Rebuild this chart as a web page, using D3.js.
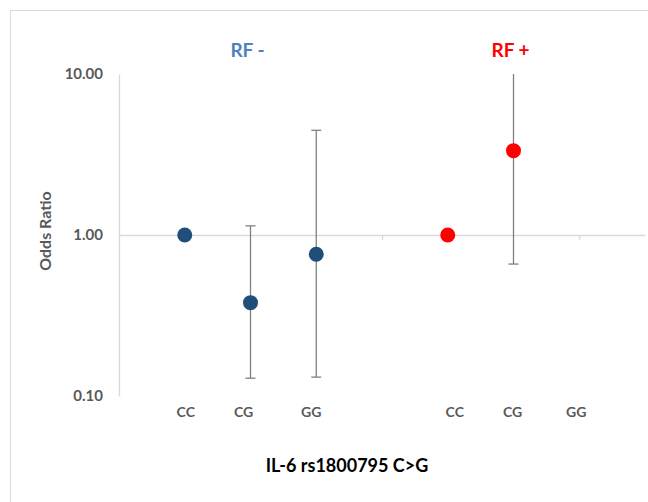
<!DOCTYPE html>
<html><head><meta charset="utf-8">
<script src="https://cdn.jsdelivr.net/npm/d3@7/dist/d3.min.js"></script>
<style>
html,body{margin:0;padding:0;background:#fff;}
svg{display:block;font-family:Lato,"Open Sans",sans-serif;}
</style></head>
<body><svg id="chart" width="648" height="502"></svg>
<script>
// ---- data ----
const groups = ["RF -", "RF +"];
const genotypes = ["CC", "CG", "GG", "CC", "CG", "GG"];
const xPositions = [1, 2, 3, 5, 6, 7];
const pointGroup = ["RF -", "RF -", "RF -", "RF +", "RF +", "RF +"];
const oddsRatio = [1.00, 0.38, 0.76, 1.00, 3.34, null];
const ciLower = [null, 0.129, 0.131, null, 0.66, null];
const ciUpper = [null, 1.14, 4.47, null, 17.0, null];
const yTicks = [0.1, 1, 10];
const xTicks = [1, 4, 7];
const groupCenters = [2, 6];

// ---- layout ----
const svg = d3.select("#chart");
const x = d3.scaleLinear().domain([0, 8]).range([119, 645]);
const y = d3.scaleLog().domain([0.1, 10]).range([396, 74]);
const labelShift = [1, -7, -5, 7, -1, -3];
const colors = {"RF -": "#1F4E79", "RF +": "#FF0000"};
const titleColors = {"RF -": "#4F81BD", "RF +": "#FF0000"};

// frame
svg.append("rect").attr("x", 10.5).attr("y", 10.5).attr("width", 700).attr("height", 600)
  .attr("fill", "none").attr("stroke", "#d9d9d9").attr("stroke-width", 1);

// y axis
const yAxis = svg.append("g").attr("transform", `translate(${x(0)},0)`)
  .call(d3.axisLeft(y).tickValues(yTicks).tickSize(0).tickPadding(16).tickFormat(d3.format(".2f")));
yAxis.select(".domain").attr("stroke", "#d9d9d9").attr("stroke-width", 1.3);
yAxis.selectAll("text").attr("fill", "#595959").attr("font-size", 15).attr("font-weight", 700)
  .attr("font-family", "Lato, sans-serif");

// horizontal axis crossing at 1
const xAxis = svg.append("g").attr("transform", `translate(0,${y(1)})`)
  .call(d3.axisBottom(x).tickValues(xTicks).tickSize(5).tickSizeOuter(0).tickFormat(""));
xAxis.select(".domain").attr("stroke", "#d9d9d9").attr("stroke-width", 1.3);
xAxis.selectAll(".tick line").attr("stroke", "#d9d9d9").attr("stroke-width", 1.3);

// error bars
const idx = d3.range(oddsRatio.length).filter(i => oddsRatio[i] != null && ciLower[i] != null);
const eb = svg.append("g").attr("stroke", "#808080").attr("stroke-width", 1.3);
const clampV = v => Math.min(10, Math.max(0.1, v));
idx.forEach(i => {
  const cx = x(xPositions[i]);
  eb.append("line").attr("x1", cx).attr("x2", cx)
    .attr("y1", y(clampV(ciLower[i]))).attr("y2", y(clampV(ciUpper[i])));
  [ciLower[i], ciUpper[i]].forEach(v => {
    if (v >= 0.1 && v <= 10) {
      eb.append("line").attr("x1", cx - 5).attr("x2", cx + 5)
        .attr("y1", y(v)).attr("y2", y(v));
    }
  });
});

// points
svg.append("g").selectAll("circle")
  .data(d3.range(oddsRatio.length).filter(i => oddsRatio[i] != null))
  .join("circle")
  .attr("cx", i => x(xPositions[i]))
  .attr("cy", i => y(oddsRatio[i]))
  .attr("r", 7.5)
  .attr("fill", i => colors[pointGroup[i]]);

// genotype labels
svg.append("g").selectAll("text").data(genotypes).join("text")
  .attr("x", (d, i) => x(xPositions[i]) + labelShift[i])
  .attr("y", 417)
  .attr("text-anchor", "middle")
  .attr("fill", "#595959").attr("font-size", 14).attr("font-weight", 700)
  .text(d => d);

// group titles
svg.append("g").selectAll("text").data(groups).join("text")
  .attr("x", (d, i) => x(groupCenters[i]) - 3)
  .attr("y", 57)
  .attr("text-anchor", "middle")
  .attr("fill", d => titleColors[d]).attr("font-size", 19).attr("font-weight", 700)
  .text(d => d);

// y title
svg.append("text").attr("transform", "translate(51,231) rotate(-90)")
  .attr("text-anchor", "middle").attr("fill", "#595959")
  .attr("font-size", 16).attr("font-weight", 700).text("Odds Ratio");

// x title
svg.append("text").attr("x", 347).attr("y", 472).attr("text-anchor", "middle")
  .attr("fill", "#000").attr("font-size", 18).attr("font-weight", 700)
  .text("IL-6 rs1800795 C>G");
</script></body></html>
